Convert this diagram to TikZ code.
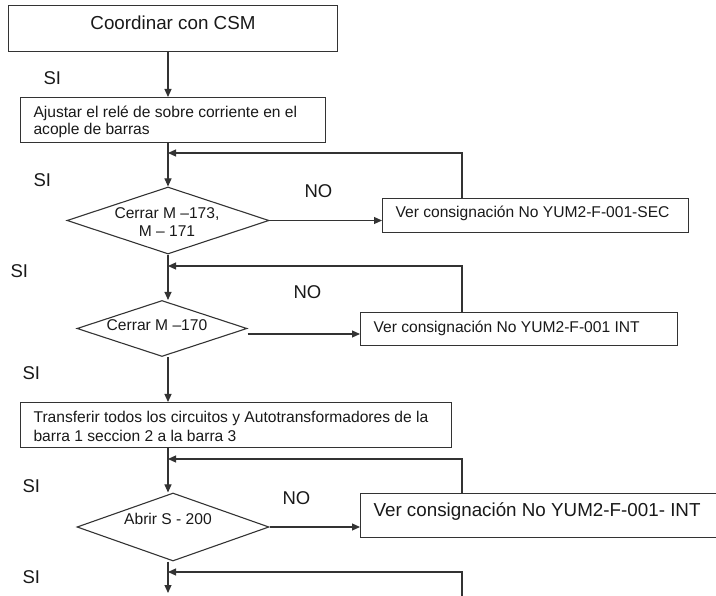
\documentclass[tikz,border=0pt]{standalone}
\usepackage{fontspec}
\setmainfont{Liberation Sans}
\usetikzlibrary{arrows.meta,shapes.geometric}
\begin{document}
\begin{tikzpicture}[x=1pt,y=-1pt,
  line width=1.1pt,
  color=black!80,
  box/.style={draw, rectangle, inner sep=0pt, anchor=north west},
  dec/.style={draw, diamond, inner sep=0pt},
  flow/.style={-{Triangle[length=8pt,width=7pt]}},
  txt/.style={inner sep=0pt, text=black!90},
  big/.style={txt, font=\fontsize{18.8}{22}\selectfont},
  small/.style={txt, font=\fontsize{15.6}{18}\selectfont},
  yn/.style={txt, font=\fontsize{18.5}{22}\selectfont, anchor=base west}
]
\useasboundingbox (0,0) rectangle (716,596);
\clip (0,0) rectangle (716,596);

% main trunk and return column
\coordinate (trunk) at (168,0);
\coordinate (ret) at (462,0);

% process boxes
\node[box, minimum width=329, minimum height=46] (b1) at (8,5) {};
\node[box, minimum width=305, minimum height=45] (b2) at (20,97) {};
\node[box, minimum width=306, minimum height=34] (b3) at (382,198) {};
\node[box, minimum width=317, minimum height=33] (b4) at (360,312) {};
\node[box, minimum width=431, minimum height=45] (b5) at (20,402) {};
\node[box, minimum width=380, minimum height=44] (b6) at (360,493) {};

% decisions
\node[dec, minimum width=202, minimum height=67] (d1) at (168,220.5) {};
\node[dec, minimum width=170, minimum height=56] (d2) at (162,328.5) {};
\node[dec, minimum width=192, minimum height=68] (d3) at (173,527) {};

% texts
\node[big, anchor=base] (t1) at (173,30) {Coordinar con CSM};
\node[small, anchor=base west] (t2a) at (33,118) {Ajustar el relé de sobre corriente en el};
\begin{scope}
  \clip (20,97) rectangle (325,137.5);
  \node[small, anchor=base west] (t2b) at (33,135) {acople de barras};
\end{scope}
\node[small, anchor=base] (t3a) at (167,219) {Cerrar M –173,};
\node[small, anchor=base] (t3b) at (167,237) {M – 171};
\node[small, anchor=base west] (t4) at (395,218) {Ver consignación No YUM2-F-001-SEC};
\node[small, anchor=base] (t5) at (157,331) {Cerrar M –170};
\node[small, anchor=base west] (t6) at (373,333) {Ver consignación No YUM2-F-001 INT};
\node[small, anchor=base west] (t7a) at (33,423) {Transferir todos los circuitos y Autotransformadores de la};
\node[small, anchor=base west] (t7b) at (33,442) {barra 1 seccion 2 a la barra 3};
\node[small, anchor=base] (t8) at (168,524) {Abrir S - 200};
\node[big, anchor=base west] (t9) at (373,517) {Ver consignación No YUM2-F-001- INT};

% SI / NO labels
\node[yn] (si1) at (43,85) {SI};
\node[yn] (si2) at (33,187) {SI};
\node[yn] (si3) at (10,278) {SI};
\node[yn] (si4) at (22,380) {SI};
\node[yn] (si5) at (22,493) {SI};
\node[yn] (si6) at (22,583) {SI};
\node[yn] (no1) at (304,198) {NO};
\node[yn] (no2) at (293,299) {NO};
\node[yn] (no3) at (282,504) {NO};

% downward flow
\draw[flow] (b1.south -| trunk) -- (trunk |- b2.north);
\draw[flow] (b2.south -| trunk) -- (d1.north);
\draw[flow] (d1.south) -- (trunk |- d2.north);
\draw[flow] (trunk |- d2.south) -- (trunk |- b5.north);
\draw[flow] (b5.south -| trunk) -- (trunk |- d3.north);
\coordinate (next) at (168,593);
\draw[flow] (trunk |- d3.south) -- (next);

% NO branches
\draw[flow] (d1.east) -- (d1.east -| b3.west);
\draw[flow] ([yshift=-5.5pt]d2.east) -- ([yshift=-5.5pt]d2.east -| b4.west);
\draw[flow] (d3.east) -- (d3.east -| b6.west);

% return lines
\coordinate (r1) at (168,153);
\coordinate (r2) at (168,266);
\coordinate (r3) at (168,459);
\coordinate (r4) at (168,572);
\coordinate (r4s) at (462,600);
\draw[flow] (ret |- b3.north) -- (ret |- r1) -- (r1);
\draw[flow] (ret |- b4.north) -- (ret |- r2) -- (r2);
\draw[flow] (ret |- b6.north) -- (ret |- r3) -- (r3);
\draw[flow] (r4s) -- (ret |- r4) -- (r4);
\end{tikzpicture}
\end{document}
